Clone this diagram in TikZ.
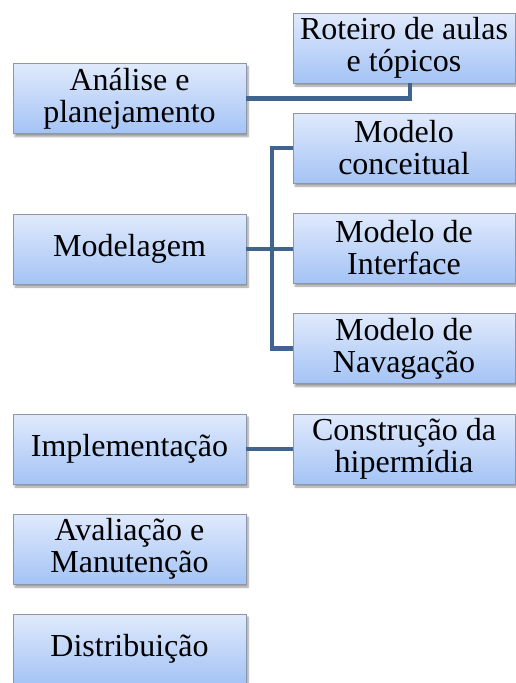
\documentclass[tikz,border=0pt]{standalone}
\usepackage{fontspec}
\setmainfont{Liberation Serif}
\usetikzlibrary{shadows.blur}
\definecolor{boxtop}{HTML}{E0EAFC}
\definecolor{boxbot}{HTML}{A4C3F5}
\definecolor{boxline}{HTML}{8C96A8}
\definecolor{conn}{HTML}{41648F}
\tikzset{
  stage/.style={draw=boxline, line width=0.9pt, top color=boxtop, bottom color=boxbot,
    minimum width=233pt, minimum height=70pt, inner sep=0pt, align=center,
    font=\fontsize{32}{32}\selectfont,
    blur shadow={shadow xshift=2pt, shadow yshift=-3pt, shadow blur steps=6, shadow opacity=40}},
  sub/.style={stage, minimum width=222pt},
  link/.style={draw=conn, line width=4.5pt}
}
\begin{document}
\begin{tikzpicture}[x=1pt,y=-1pt]
\useasboundingbox (0,0) rectangle (515,683);
\node[stage] (ana) at (129.5,98.5) {Análise e\\planejamento};
\node[stage] (mod) at (129.5,249) {Modelagem};
\node[stage] (imp) at (129.5,449) {Implementação};
\node[stage] (ava) at (129.5,549) {Avaliação e\\Manutenção};
\node[stage] (dis) at (129.5,649) {Distribuição};
\node[sub] (rot) at (404,48) {Roteiro de aulas\\e tópicos};
\node[sub] (con) at (404,148) {Modelo\\conceitual};
\node[sub] (int) at (404,248) {Modelo de\\Interface};
\node[sub] (nav) at (404,348.5) {Modelo de\\Navagação};
\node[sub] (cons) at (404,449) {Construção da\\hipermídia};
\coordinate (b1) at (410,98.5);
\coordinate (m1) at (272,249);
\coordinate (mt) at (272,148);
\coordinate (mb) at (272,348.5);
\draw[link] (ana.east) -- (b1) -- (b1 |- rot.south);
\draw[link] (mod.east) -- (m1);
\draw[link] (con.west) -- (mt) -- (mb) -- (nav.west);
\draw[link] (m1) -- (int.west |- m1);
\draw[link] (imp.east) -- (cons.west);
\end{tikzpicture}
\end{document}
